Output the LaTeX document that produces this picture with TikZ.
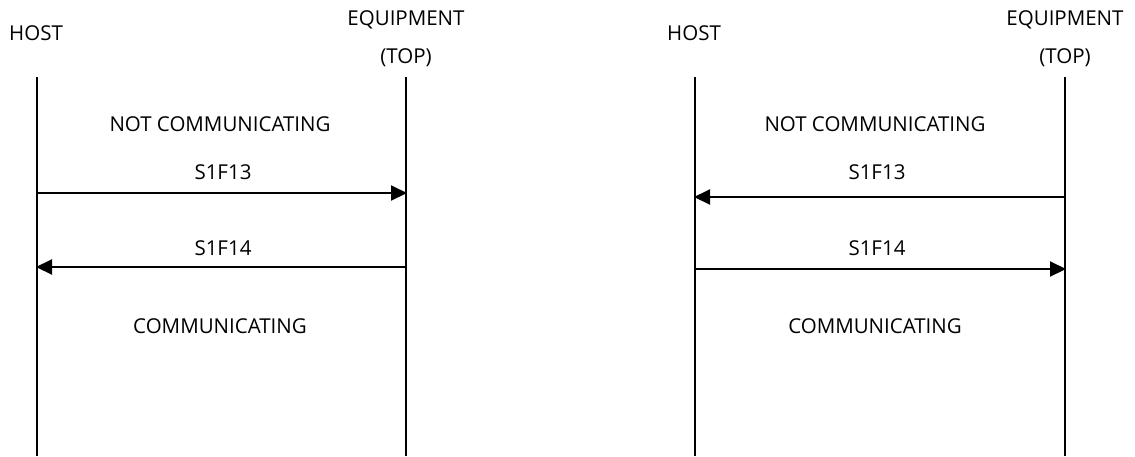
\documentclass[tikz,border=0pt]{standalone}
\usepackage{fontspec}
\setmainfont{Open Sans}
\usetikzlibrary{arrows.meta}
\begin{document}
\begin{tikzpicture}[x=1pt,y=-1pt,
  lbl/.style={font=\fontsize{20.5}{24}\selectfont, inner sep=0pt},
  life/.style={line width=2pt},
  msg/.style={line width=2pt,-{Triangle[length=16pt,width=15pt]}, shorten >=-1pt}]
\useasboundingbox (0,0) rectangle (1135,456);
% left diagram
\node[lbl] (h1) at (36,33) {HOST};
\node[lbl] (e1) at (406,20) {EQUIPMENT};
\node[lbl] (t1) at (406,58) {(TOP)};
\coordinate (h1t) at (37,77); \coordinate (h1b) at (37,456);
\coordinate (e1t) at (406,77); \coordinate (e1b) at (406,456);
\draw[life] (h1t) -- (h1b);
\draw[life] (e1t) -- (e1b);
\node[lbl] (nc1) at (220,124) {NOT COMMUNICATING};
\node[lbl] (a1l) at (223,172) {S1F13};
\coordinate (a1s) at (37,193); \coordinate (a1e) at (406,193);
\draw[msg] (a1s) -- (a1e);
\node[lbl] (b1l) at (223,248) {S1F14};
\coordinate (b1s) at (406,267); \coordinate (b1e) at (37,267);
\draw[msg] (b1s) -- (b1e);
\node[lbl] (c1) at (220,326) {COMMUNICATING};
% right diagram
\node[lbl] (h2) at (694,33) {HOST};
\node[lbl] (e2) at (1065,20) {EQUIPMENT};
\node[lbl] (t2) at (1065,58) {(TOP)};
\coordinate (h2t) at (695,77); \coordinate (h2b) at (695,456);
\coordinate (e2t) at (1065,77); \coordinate (e2b) at (1065,456);
\draw[life] (h2t) -- (h2b);
\draw[life] (e2t) -- (e2b);
\node[lbl] (nc2) at (875,124) {NOT COMMUNICATING};
\node[lbl] (a2l) at (877,172) {S1F13};
\coordinate (a2s) at (1065,197); \coordinate (a2e) at (695,197);
\draw[msg] (a2s) -- (a2e);
\node[lbl] (b2l) at (877,248) {S1F14};
\coordinate (b2s) at (695,269); \coordinate (b2e) at (1065,269);
\draw[msg] (b2s) -- (b2e);
\node[lbl] (c2) at (875,326) {COMMUNICATING};
\end{tikzpicture}
\end{document}
